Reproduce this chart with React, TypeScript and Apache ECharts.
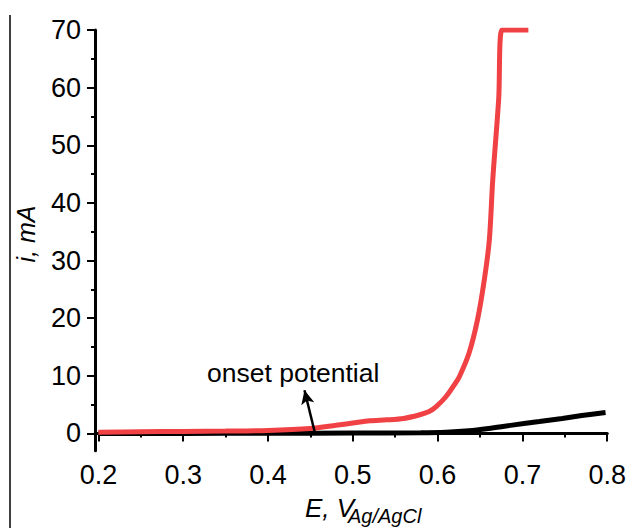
import React, { useEffect, useRef } from "react";
import * as echarts from "echarts";

const FONT = "'Liberation Sans', Arial, sans-serif";

// Potential E (V vs Ag/AgCl) and current i (mA)
const redE = [0.2, 0.25, 0.3, 0.35, 0.4, 0.45, 0.48, 0.5, 0.52, 0.54, 0.56, 0.578, 0.59, 0.598, 0.61, 0.62, 0.6255, 0.637, 0.647, 0.655, 0.661, 0.665, 0.672, 0.676, 0.707];
const redI = [0.2, 0.3, 0.35, 0.4, 0.5, 0.85, 1.4, 1.8, 2.2, 2.35, 2.6, 3.2, 3.8, 4.6, 6.4, 8.5, 9.8, 13.9, 19.7, 26.6, 33.6, 44, 58, 70, 70];

const blackE = [0.2, 0.3, 0.4, 0.5, 0.58, 0.61, 0.637, 0.66, 0.688, 0.72, 0.747, 0.77, 0.798];
const blackI = [0, 0, 0.02, 0.05, 0.1, 0.2, 0.45, 0.85, 1.44, 2.05, 2.6, 3.1, 3.64];

const xMajor = [0.2, 0.3, 0.4, 0.5, 0.6, 0.7, 0.8];
const xMinor = [0.25, 0.35, 0.45, 0.55, 0.65, 0.75];
const yMajor = [0, 10, 20, 30, 40, 50, 60, 70];
const yMinor = [5, 15, 25, 35, 45, 55, 65];

const onsetLabel = "onset potential";
const arrowFrom = [0.455, 0.3];
const arrowTo = [0.443, 7.5];

export default function App() {
  const ref = useRef<HTMLDivElement>(null);
  useEffect(() => {
    if (!ref.current) return;
    const chart = echarts.init(ref.current, undefined, { renderer: "svg" });
    const axisLine = { show: true, lineStyle: { color: "#000", width: 3 } };
    const baseX = {
      type: "value",
      min: 0.196,
      max: 0.8,
      splitLine: { show: false },
    };
    const baseY = {
      type: "value",
      min: -3,
      max: 70,
      splitLine: { show: false },
    };
    chart.setOption({
      animation: false,
      backgroundColor: "#fff",
      grid: { left: 95, right: 20.7, top: 30, bottom: 77.3, containLabel: false },
      xAxis: [
        {
          ...baseX,
          position: "bottom",
          axisLine,
          axisTick: { show: true, customValues: xMajor, length: 8, lineStyle: { color: "#000", width: 2 } },
          axisLabel: {
            show: true,
            customValues: xMajor,
            formatter: (v: number) => v.toFixed(1),
            fontSize: 27,
            fontFamily: FONT,
            color: "#000",
            margin: 11,
          },
        },
        {
          ...baseX,
          position: "bottom",
          axisLine: { show: false },
          axisTick: { show: true, customValues: xMinor, length: 4, lineStyle: { color: "#000", width: 2 } },
          axisLabel: { show: false },
        },
      ],
      yAxis: [
        {
          ...baseY,
          position: "left",
          axisLine,
          axisTick: { show: true, customValues: yMajor, length: 8, lineStyle: { color: "#000", width: 2 } },
          axisLabel: {
            show: true,
            customValues: yMajor,
            fontSize: 27,
            fontFamily: FONT,
            color: "#000",
            margin: 14,
          },
        },
        {
          ...baseY,
          position: "left",
          axisLine: { show: false },
          axisTick: { show: true, customValues: yMinor, length: 4, lineStyle: { color: "#000", width: 2 } },
          axisLabel: { show: false },
        },
      ],
      series: [
        {
          name: "black",
          type: "line",
          data: blackE.map((e, i) => [e, blackI[i]]),
          showSymbol: false,
          smooth: 0.3,
          lineStyle: { color: "#000", width: 5 },
          itemStyle: { color: "#000" },
          clip: true,
        },
        {
          name: "red",
          type: "line",
          data: redE.map((e, i) => [e, redI[i]]),
          showSymbol: false,
          smooth: 0.3,
          lineStyle: { color: "#f04145", width: 5 },
          itemStyle: { color: "#f04145" },
          clip: true,
          markLine: {
            silent: true,
            symbol: ["none", "arrow"],
            symbolSize: [10, 14],
            label: { show: false },
            lineStyle: { color: "#000", width: 2.5, type: "solid" },
            data: [[{ coord: arrowFrom }, { coord: arrowTo }]],
          },
        },
      ],
      graphic: [
        {
          type: "line",
          shape: { x1: 10, y1: 15, x2: 10, y2: 528 },
          style: { stroke: "#000", lineWidth: 1.5 },
        },
        {
          type: "text",
          x: 207,
          y: 373,
          style: { text: onsetLabel, font: `26.5px ${FONT}`, fill: "#000", align: "left", verticalAlign: "middle" },
        },
        {
          type: "text",
          x: 26,
          y: 234,
          rotation: Math.PI / 2,
          style: { text: "i, mA", font: `italic 25px ${FONT}`, fill: "#000", align: "center", verticalAlign: "middle" },
        },
        {
          type: "text",
          x: 305,
          y: 508,
          style: { text: "E, V", font: `italic 26px ${FONT}`, fill: "#000", align: "left", verticalAlign: "middle" },
        },
        {
          type: "text",
          x: 348,
          y: 516,
          style: { text: "Ag/AgCl", font: `italic 20px ${FONT}`, fill: "#000", align: "left", verticalAlign: "middle" },
        },
      ],
    });
    return () => chart.dispose();
  }, []);
  return (
    <div
      ref={ref}
      style={{ position: "absolute", left: 0, top: 0, width: 629, height: 528 }}
    />
  );
}
